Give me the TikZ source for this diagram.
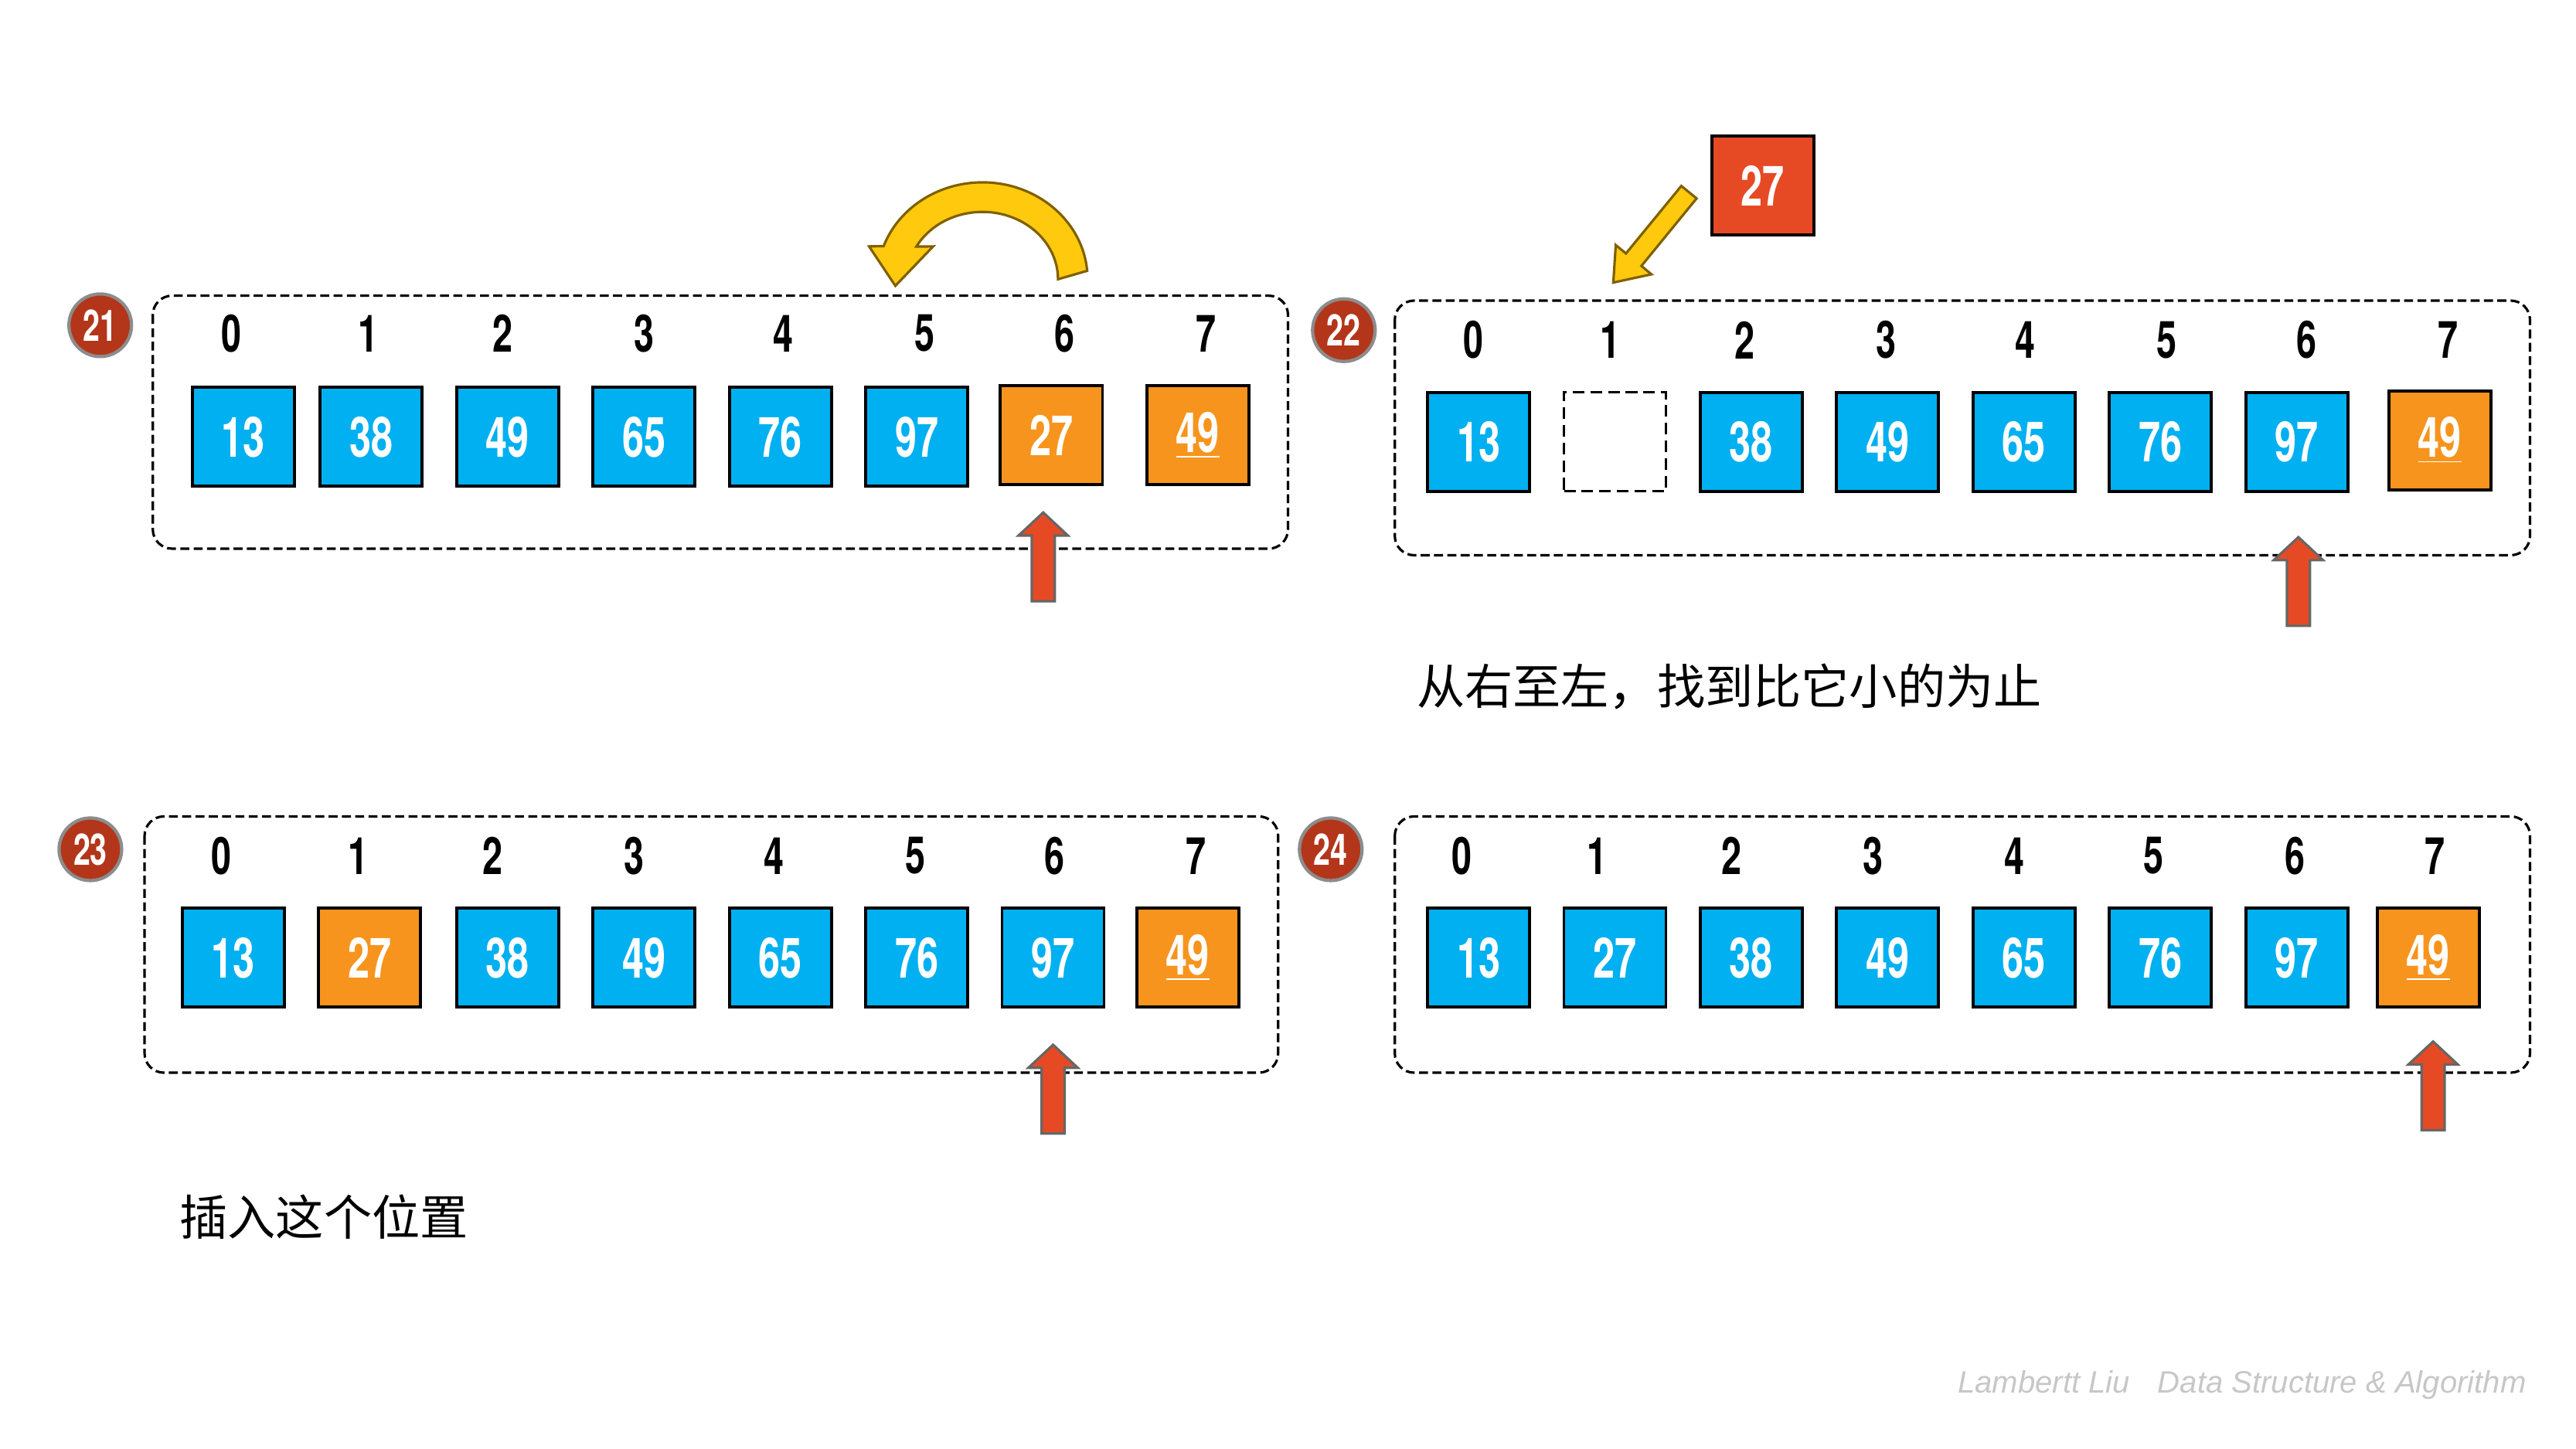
\documentclass[tikz,border=0pt]{standalone}
\usepackage{fontspec}
\newfontfamily\numfont[FakeStretch=0.7]{TeX Gyre Heros}
\newfontfamily\cjk{Noto Sans CJK SC}
\newfontfamily\markfont{Liberation Sans}

\definecolor{cellblue}{HTML}{00B0F0}
\definecolor{cellorange}{HTML}{F7941D}
\definecolor{arrowred}{HTML}{E64A25}
\definecolor{badgered}{HTML}{B3361A}
\definecolor{curveyellow}{HTML}{FFC90E}
\definecolor{curveedge}{HTML}{7F6000}

\tikzset{
  cell/.style = {draw, line width=1.1pt, minimum width=1.32cm, minimum height=1.28cm, inner sep=0pt,
                 text=white, font=\numfont\bfseries\fontsize{20.5}{24}\selectfont},
  cellb/.style = {cell, fill=cellblue},
  cello/.style = {cell, fill=cellorange},
  cellgap/.style = {draw, dash pattern=on 4.3pt off 2.2pt, line width=0.9pt, minimum width=1.32cm, minimum height=1.28cm},
  idx/.style = {inner sep=0pt, font=\numfont\bfseries\fontsize{19}{22}\selectfont},
  badge/.style = {circle, draw=black!45, line width=1.2pt, fill=badgered, text=white, minimum size=0.81cm,
                  inner sep=0pt, font=\numfont\bfseries\fontsize{16}{18}\selectfont},
  frame/.style = {draw, dash pattern=on 3.3pt off 1.6pt, line width=0.9pt, rounded corners=0.25cm},
  redarrow/.style = {fill=arrowred, draw=black!60, line width=0.9pt},
  yellowarrow/.style = {fill=curveyellow, draw=curveedge, line width=0.9pt},
  note/.style = {inner sep=0pt, anchor=west, font=\cjk\fontsize{17.7}{20}\selectfont},
  uparrow/.pic = {\draw[redarrow] (0,0) -- (15,14) -- (7,14) -- (7,54) -- (-7,54) -- (-7,14) -- (-15,14) -- cycle;}
}

\begin{document}
\begin{tikzpicture}[x=0.021256cm, y=-0.021256cm]
    \useasboundingbox (0,0) rectangle (1568,882);

    % step 21
    \node[badge] (b21) at (61,198) {21};
    \draw[frame] (93,180) rectangle (784,334);
    \foreach \i/\x in {0/141,1/224,2/306,3/392,4/477,5/563,6/648,7/734}
        \node[idx] (la\i) at (\x,203) {\i};
    \foreach \i/\x/\v in {0/148/13,1/226/38,2/309/49,3/392/65,4/475/76,5/558/97}
        \node[cellb] (a\i) at (\x,266) {\v};
    \node[cello] (a6) at (640,265) {27};
    \node[cello] (a7) at (729,265) {\underline{49}};
    \pic (pa) at (635,312) {uparrow};
    \draw[yellowarrow] ([shift={(-5:64 and 59)}]598,170) arc[start angle=-5, end angle=-160, x radius=64, y radius=59]
        -- (529,150) -- (545,174) -- (568,150)
        -- ([shift={(-151:46 and 41)}]598,170) arc[start angle=-151, end angle=0, x radius=46, y radius=41] -- cycle;

    % step 22
    \node[badge] (b22) at (818,201) {22};
    \draw[frame] (849,183) rectangle (1540,338);
    \foreach \i/\x in {0/897,1/980,2/1062,3/1148,4/1233,5/1319,6/1404,7/1490}
        \node[idx] (lb\i) at (\x,207) {\i};
    \node[cellb] (b0) at (900,269) {13};
    \node[cellgap] (b1) at (983,269) {};
    \foreach \i/\x/\v in {2/1066/38,3/1149/49,4/1232/65,5/1315/76,6/1398/97}
        \node[cellb] (b\i) at (\x,269) {\v};
    \node[cello] (b7) at (1485,268) {\underline{49}};
    \pic (pb) at (1399,327) {uparrow};
    \node[cell, fill=arrowred] (key) at (1073,113) {27};
    \draw[yellowarrow] (1032.7,120.8) -- (999.1,161.9) -- (1005.2,167.0) -- (982,172)
        -- (983.5,149.2) -- (989.7,154.3) -- (1023.4,113.2) -- cycle;
    \node[note] (hintb) at (862,418) {从右至左，找到比它小的为止};

    % step 23
    \node[badge] (b23) at (55,517) {23};
    \draw[frame] (88,497) rectangle (778,653);
    \foreach \i/\x in {0/135,1/218,2/300,3/386,4/471,5/557,6/642,7/728}
        \node[idx] (lc\i) at (\x,521) {\i};
    \node[cellb] (c0) at (142,583) {13};
    \node[cello] (c1) at (225,583) {27};
    \foreach \i/\x/\v in {2/309/38,3/392/49,4/475/65,5/558/76,6/641/97}
        \node[cellb] (c\i) at (\x,583) {\v};
    \node[cello] (c7) at (723,583) {\underline{49}};
    \pic (pc) at (641,636) {uparrow};
    \node[note] (hintc) at (109,741) {插入这个位置};

    % step 24
    \node[badge] (b24) at (810,517) {24};
    \draw[frame] (849,497) rectangle (1540,653);
    \foreach \i/\x in {0/890,1/972,2/1054,3/1140,4/1226,5/1311,6/1397,7/1482}
        \node[idx] (ld\i) at (\x,521) {\i};
    \foreach \i/\x/\v in {0/900/13,1/983/27,2/1066/38,3/1149/49,4/1232/65,5/1315/76,6/1398/97}
        \node[cellb] (d\i) at (\x,583) {\v};
    \node[cello] (d7) at (1478,583) {\underline{49}};
    \pic (pd) at (1481,634) {uparrow};

    \node[inner sep=0pt, anchor=east, text=black!22, font=\markfont\itshape\fontsize{11.4}{13}\selectfont]
        (credit) at (1538,843) {Lambertt Liu\hspace{0.9em}Data Structure \& Algorithm};
\end{tikzpicture}
\end{document}
